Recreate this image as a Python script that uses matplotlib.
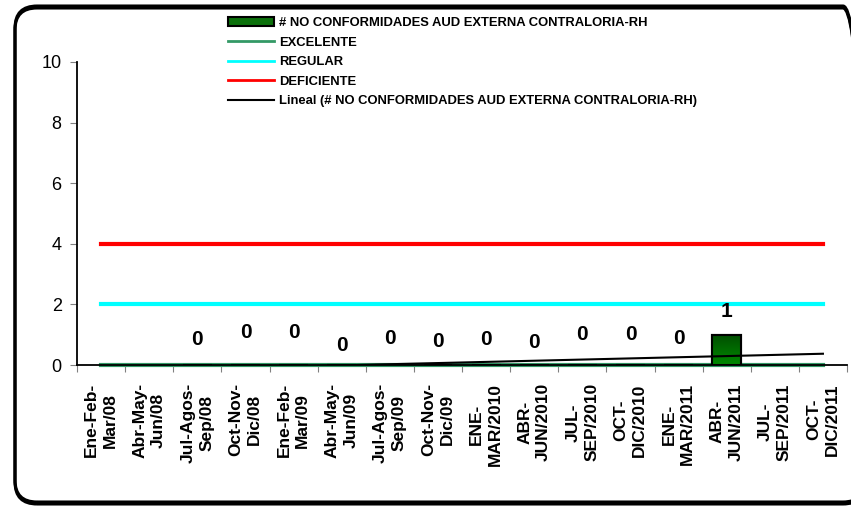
import numpy as np
import matplotlib
matplotlib.use("Agg")
import matplotlib.pyplot as plt
from matplotlib.patches import FancyBboxPatch
from matplotlib.lines import Line2D
from matplotlib.patches import Patch
from matplotlib.colors import LinearSegmentedColormap
from matplotlib.transforms import IdentityTransform

# categories (quarters)
categories = [
    "Ene-Feb-\nMar/08", "Abr-May-\nJun/08", "Jul-Agos-\nSep/08", "Oct-Nov-\nDic/08",
    "Ene-Feb-\nMar/09", "Abr-May-\nJun/09", "Jul-Agos-\nSep/09", "Oct-Nov-\nDic/09",
    "ENE-\nMAR/2010", "ABR-\nJUN/2010", "JUL-\nSEP/2010", "OCT-\nDIC/2010",
    "ENE-\nMAR/2011", "ABR-\nJUN/2011", "JUL-\nSEP/2011", "OCT-\nDIC/2011",
]
# number of non conformities (None = no data)
no_conformidades = [None, None, 0, 0, 0, 0, 0, 0, 0, 0, 0, 0, 0, 1, None, None]
excelente = [0] * 16
regular = [2] * 16
deficiente = [4] * 16
# vertical offset of the data labels as placed in the original
label_offsets = [0, 0, 0.83, 1.06, 1.06, 0.66, 0.86, 0.76, 0.83, 0.73, 1.02, 1.02, 0.86, 0.75, 0, 0]

x = np.arange(1, len(categories) + 1)

fig = plt.figure(figsize=(8.51, 5.07), dpi=100)
plt.rcParams['font.family'] = ['Liberation Sans', 'DejaVu Sans']

# rounded frame around the chart (thicker at the bottom, like a shadow)
for dx, dy in [(0, -2), (0, 0)]:
    frame = FancyBboxPatch((15 + dx, 5 + dy), 850, 496, boxstyle="round,pad=0,rounding_size=22",
                           transform=IdentityTransform(), facecolor="none",
                           edgecolor="black", linewidth=2.2, zorder=0)
    fig.patches.append(frame)

ax = fig.add_axes([77 / 851, 142 / 507, 770 / 851, 303 / 507])
ax.set_facecolor("none")

vals = np.array([np.nan if v is None else v for v in no_conformidades], dtype=float)
mask = ~np.isnan(vals)

bars = ax.bar(x[mask], vals[mask], width=0.6, color="#0b700b", edgecolor="black",
              linewidth=1.5, zorder=3)
# gradient fill inside the bars
cmap = LinearSegmentedColormap.from_list("grn", ["#008a00", "#004d00"])
grad = np.linspace(0, 1, 100).reshape(-1, 1)
for b in bars:
    if b.get_height() > 0:
        bx, by, bw, bh = b.get_x(), b.get_y(), b.get_width(), b.get_height()
        im = ax.imshow(grad, cmap=cmap, aspect="auto", origin="lower",
                       extent=[bx, bx + bw, by, by + bh], zorder=3.1)
        im.set_clip_path(b)
        ax.add_patch(plt.Rectangle((bx, by), bw, bh, facecolor="none",
                                   edgecolor="black", linewidth=1.5, zorder=3.2))

ax.plot(x, excelente, color="#339966", linewidth=3, zorder=2, clip_on=False)
ax.plot(x, regular, color="#00ffff", linewidth=3, zorder=2)
ax.plot(x, deficiente, color="#ff0000", linewidth=3, zorder=2)

# linear trend over the available points
coef = np.polyfit(x[mask], vals[mask], 1)
ax.plot(x, np.polyval(coef, x), color="black", linewidth=1.5, zorder=4)

for xi, v, off in zip(x[mask], vals[mask], np.array(label_offsets)[mask]):
    ax.text(xi, v + off, f"{int(v)}", ha="center", va="center", fontsize=15,
            fontweight="bold", zorder=5)

ax.set_xlim(0.5, 16.5)
ax.set_ylim(0, 10)
ax.set_yticks([0, 2, 4, 6, 8, 10])
ax.tick_params(axis="y", labelsize=13, length=5, direction="out", pad=6)
ax.set_xticks(np.arange(0.5, 17, 1))
ax.set_xticklabels([])
ax.tick_params(axis="x", length=5, direction="out", color="#808080")
ax.tick_params(axis="y", color="#808080")
for xi, lab in zip(x, categories):
    ax.text(xi, -0.6, lab, rotation=90, ha="center", va="top", fontsize=12.5,
            fontweight="bold", multialignment="center", linespacing=1.3,
            transform=ax.transData)

ax.spines["top"].set_visible(False)
ax.spines["right"].set_visible(False)
ax.spines["left"].set_linewidth(1.3)
ax.spines["bottom"].set_linewidth(1.3)
for s in ax.spines.values():
    s.set_zorder(6)

handles = [
    Patch(facecolor="#0b700b", edgecolor="black", linewidth=1.5),
    Line2D([], [], color="#339966", linewidth=2),
    Line2D([], [], color="#00ffff", linewidth=2),
    Line2D([], [], color="#ff0000", linewidth=2),
    Line2D([], [], color="black", linewidth=1.5),
]
labels = [
    "# NO CONFORMIDADES AUD EXTERNA CONTRALORIA-RH",
    "EXCELENTE",
    "REGULAR",
    "DEFICIENTE",
    "Lineal (# NO CONFORMIDADES AUD EXTERNA CONTRALORIA-RH)",
]
leg = fig.legend(handles, labels, loc="upper left", bbox_to_anchor=(228 / 851, 1 - 17 / 507),
                 frameon=False, prop={"weight": "bold", "size": 9.4},
                 handlelength=3.5, handleheight=0.6, handletextpad=0.4,
                 labelspacing=0.58, borderaxespad=0, borderpad=0)

fig.savefig("out.png", dpi=100)
